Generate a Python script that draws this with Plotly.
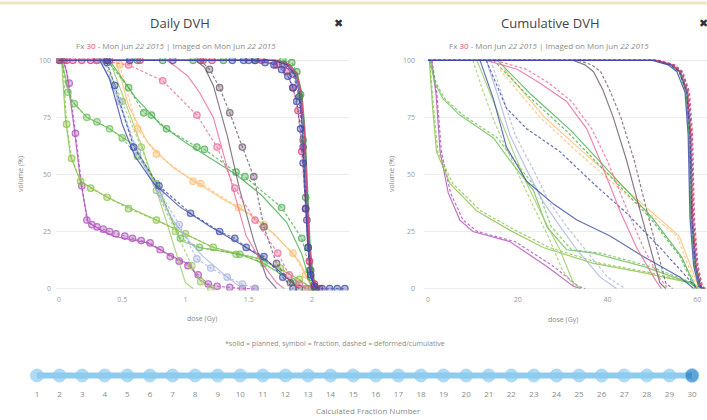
import plotly.graph_objects as go

# ---- daily DVH (Gy per fraction) ----
# high dose targets: planned
PTV_VOL = [100, 100, 98, 94, 86, 70, 45, 20, 5, 0]
ptv_blue_plan = [0, 1.70, 1.80, 1.86, 1.90, 1.925, 1.945, 1.965, 1.99, 2.03]
ptv_red_plan = [0, 1.72, 1.82, 1.88, 1.915, 1.94, 1.96, 1.98, 2.0, 2.04]
ptv_green_plan = [0, 1.74, 1.83, 1.885, 1.92, 1.945, 1.965, 1.985, 2.01, 2.05]
ptv_purple_plan = [0, 1.71, 1.81, 1.87, 1.91, 1.935, 1.955, 1.975, 2.0, 2.04]

# high dose targets: fraction
ptv_blue_frac_dose = [0.38, 0.56, 1.37, 1.46, 1.55, 1.63, 1.70, 1.76, 1.81, 1.85, 1.88, 1.91, 1.93, 1.95, 1.97, 1.99, 2.02, 2.08, 2.14, 2.20, 2.26]
ptv_blue_frac_vol = [100, 100, 100, 100, 100, 99, 98, 96, 93, 88, 82, 70, 55, 35, 18, 6, 1, 0, 0, 0, 0]
ptv_red_frac_dose = [0.01, 0.06, 0.11, 0.18, 0.25, 0.40, 0.64, 1.14, 1.21, 1.60, 1.72, 1.80, 1.85, 1.89, 1.92, 1.95, 1.98, 2.02, 2.06]
ptv_red_frac_vol = [100, 100, 100, 100, 100, 100, 100, 100, 100, 100, 98, 95, 88, 78, 60, 35, 12, 2, 0]
ptv_green_frac_dose = [0.62, 0.82, 1.06, 1.30, 1.55, 1.77, 1.84, 1.88, 1.91, 1.93, 1.95, 1.97, 1.99, 2.03]
ptv_green_frac_vol = [100, 100, 100, 100, 100, 100, 99, 95, 85, 65, 40, 18, 5, 0]
ptv_purple_frac_dose = [0.0, 0.9, 1.5, 1.78, 1.85, 1.90, 1.93, 1.96, 1.99, 2.03]
ptv_purple_frac_vol = [100, 100, 100, 98, 94, 84, 62, 30, 8, 0]

# organs at risk: planned (solid) / fraction (symbol + dashed)
pink_plan_dose = [0.85, 0.93, 1.02, 1.11, 1.22, 1.35, 1.48, 1.62, 1.72, 1.78]
pink_plan_vol = [100, 97, 93, 86, 75, 49, 23, 10, 2.5, 0]
pink_frac_dose = [0.30, 0.55, 0.82, 1.09, 1.25, 1.39, 1.55, 1.73, 1.82, 1.90, 1.97]
pink_frac_vol = [100, 98, 91, 76, 62, 44, 30, 15.5, 6, 2, 0]

gray_plan_dose = [1.08, 1.15, 1.22, 1.33, 1.43, 1.54, 1.64, 1.72]
gray_plan_vol = [100, 97, 89, 67, 43, 21, 5, 0]
gray_frac_dose = [1.12, 1.19, 1.27, 1.35, 1.45, 1.54, 1.62, 1.72, 1.83, 1.90]
gray_frac_vol = [100, 96, 88, 77, 62, 49, 27, 11, 2.5, 0]

glin_plan_dose = [0.40, 0.60, 0.80, 1.00, 1.20, 1.40, 1.60, 1.80, 1.92, 2.00]
glin_plan_vol = [100, 84, 72, 64, 57, 50, 41, 29, 15, 0]
glin_frac_dose = [0.38, 0.55, 0.67, 0.73, 0.85, 1.09, 1.15, 1.40, 1.47, 1.76, 1.92, 1.98, 2.02]
glin_frac_vol = [100, 88, 77, 76, 70, 62, 61, 51, 49, 35.5, 22, 8, 0]

orange_plan_dose = [0.45, 0.55, 0.70, 0.90, 1.10, 1.30, 1.50, 1.70, 1.90, 2.00]
orange_plan_vol = [100, 80, 64, 53, 46, 39, 33, 24, 12, 0]
orange_frac_dose = [0.48, 0.62, 0.77, 1.06, 1.12, 1.42, 1.62, 1.85, 1.95, 2.01]
orange_frac_vol = [98, 70, 59, 47, 46, 35.5, 28, 15.5, 6, 0]

navy_plan_dose = [0.32, 0.40, 0.50, 0.60, 0.75, 0.95, 1.20, 1.45, 1.65, 1.80, 1.90]
navy_plan_vol = [100, 92, 72, 58, 46, 36, 27, 19, 12, 5, 0]
navy_frac_dose = [0.30, 0.38, 0.44, 0.59, 0.79, 1.04, 1.27, 1.39, 1.48, 1.62, 1.77, 1.85]
navy_frac_vol = [100, 99, 89, 62, 45, 33, 25, 22, 18, 14, 5, 0]

lav_plan_dose = [0.33, 0.45, 0.60, 0.77, 0.90, 1.04, 1.14, 1.25, 1.33, 1.45]
lav_plan_vol = [100, 85, 62, 43, 30, 20, 14, 9, 5, 0]
lav_frac_dose = [0.35, 0.48, 0.62, 0.80, 0.95, 1.09, 1.20, 1.33, 1.45, 1.55]
lav_frac_vol = [100, 82, 60, 42, 28, 13, 9, 5, 2, 0]

lgreen_plan_dose = [0.40, 0.50, 0.67, 0.80, 0.90, 1.00, 1.06]
lgreen_plan_vol = [100, 85, 60, 38, 20, 2.5, 0]
lgreen_frac_dose = [0.36, 0.50, 0.65, 0.77, 0.92, 1.05, 1.12, 1.20]
lgreen_frac_vol = [100, 82, 62, 43, 25, 10, 3, 0]

gknee_plan_dose = [0.02, 0.06, 0.09, 0.22, 0.40, 0.59, 0.77, 0.96, 1.11, 1.43, 1.62, 1.85, 1.95]
gknee_plan_vol = [100, 90, 83, 75, 70, 63, 46, 21, 18, 15, 11, 3, 0]
gknee_frac_dose = [0.02, 0.07, 0.12, 0.22, 0.30, 0.40, 0.50, 0.62, 0.77, 0.96, 1.11, 1.43, 1.62, 1.85, 1.95]
gknee_frac_vol = [100, 86, 81, 75, 73, 70, 66, 58, 46, 22, 18, 15, 11, 3, 0]

glow_plan_dose = [0.02, 0.05, 0.09, 0.17, 0.38, 0.77, 1.22, 1.59, 1.90, 2.00]
glow_plan_vol = [100, 75, 58, 47, 40, 30, 18, 13, 4, 0]
glow_frac_dose = [0.03, 0.06, 0.10, 0.17, 0.25, 0.38, 0.55, 0.77, 1.00, 1.22, 1.40, 1.59, 1.75, 1.90, 2.00]
glow_frac_vol = [100, 72, 57, 47, 44, 40, 35, 30, 24, 18, 15, 13, 9, 4, 0]

orchid_plan_dose = [0.03, 0.06, 0.12, 0.17, 0.23, 0.32, 0.43, 0.70, 0.90, 1.03, 1.11, 1.22]
orchid_plan_vol = [100, 95, 70, 47, 29, 26, 23, 20, 14, 10.5, 4, 0]
orchid_frac_dose = [0.04, 0.08, 0.13, 0.18, 0.22, 0.26, 0.30, 0.35, 0.40, 0.45, 0.52, 0.58, 0.65, 0.72,
                    0.80, 0.88, 0.95, 1.02, 1.10, 1.18, 1.25, 1.35, 1.45, 1.55]
orchid_frac_vol = [100, 90, 68, 45, 30, 28, 27, 26, 25, 24, 23, 22, 21, 20, 17, 14, 12, 10, 6, 2, 1, 0.5, 0, 0]

# ---- cumulative DVH (Gy) ----
CUM_PTV_VOL = [100, 100, 98, 95, 86, 67, 31, 10, 1, 0]
cum_blue_plan = [0, 50, 53.5, 55.5, 57.3, 58.0, 58.4, 59.2, 60.3, 61.0]
cum_blue_def = [0, 50.5, 54, 56, 57.7, 58.4, 58.8, 59.6, 60.7, 61.4]
cum_red_plan = [0, 51, 54.5, 56.3, 57.9, 58.6, 59.0, 59.8, 60.8, 61.5]
cum_red_def = [0, 51.5, 55, 56.8, 58.3, 59.0, 59.4, 60.2, 61.2, 61.9]
cum_green_plan = [0, 50.5, 54, 56, 57.5, 58.2, 58.6, 59.4, 60.5, 61.2]
cum_green_def = [0, 51, 54.5, 56.4, 57.9, 58.6, 59.0, 59.8, 60.9, 61.6]
cum_purple_plan = [0, 50.8, 54.2, 56.2, 57.7, 58.4, 58.8, 59.6, 60.6, 61.3]
cum_purple_def = [0, 51.2, 54.8, 56.6, 58.1, 58.8, 59.2, 60.0, 61.0, 61.7]

cum_gray_vol = [100, 98, 95, 87, 75, 56, 34, 18, 2.5, 0]
cum_gray_plan = [32.4, 35, 36.9, 39, 41.3, 44.3, 47.3, 49.5, 51.7, 53]
cum_gray_def = [33.5, 36.5, 38.5, 40.5, 43, 46, 48.8, 51, 53, 54.5]

cum_pink_vol = [100, 96, 90, 82, 70, 56, 34, 18, 5, 0]
cum_pink_plan = [13, 20, 25, 30.9, 35.4, 38.4, 42.8, 46.5, 50.3, 52]
cum_pink_def = [15, 22, 27, 32, 36.5, 40, 44.5, 48, 51.5, 53.5]

cum_navy_plan_dose = [11.6, 14.6, 17.5, 22, 28, 33.2, 40.6, 48, 56.2, 59.2]
cum_navy_plan_vol = [100, 83, 62, 47, 37, 30, 23, 14, 5, 0]
cum_navy_def_dose = [13, 17.5, 22, 29.4, 36.9, 44.3, 51.7, 57.7, 60]
cum_navy_def_vol = [100, 79, 70, 60, 46, 33, 18, 5, 0]

cum_glin_vol = [100, 85, 69, 49, 31, 14, 0]
cum_glin_plan = [15.5, 23, 32, 41.5, 50, 56.5, 59.8]
cum_glin_def = [14.6, 22, 30.9, 40.6, 49.5, 56.2, 59.5]

cum_orange_vol = [96, 75, 60, 41, 23, 5, 0]
cum_orange_plan = [17, 26, 34.5, 45.5, 56, 59.5, 60.5]
cum_orange_def = [16, 25, 33.2, 44.3, 55.5, 59, 60]

cum_lgreen_plan_dose = [10.9, 13, 16, 19, 22, 26.5, 29.4, 32.4, 34]
cum_lgreen_plan_vol = [100, 90, 75, 60, 46, 28, 17, 2.5, 0]
cum_lgreen_def_dose = [10, 12, 15, 19, 23, 27, 30, 33]
cum_lgreen_def_vol = [100, 88, 72, 55, 38, 22, 8, 0]

cum_lav_vol = [100, 85, 67, 52, 38, 27, 17, 5, 0]
cum_lav_plan = [13, 15.5, 18.3, 22, 25.7, 29.5, 33.2, 38.4, 42]
cum_lav_def = [14, 16.5, 19.5, 23.5, 27, 31, 35, 40, 44]

cum_gknee_vol = [100, 90, 83, 76, 66, 56, 43, 27, 17, 15.5, 9.7, 2.5, 0]
cum_gknee_plan = [0.45, 1.5, 3.4, 7.1, 14.6, 18.3, 23.5, 26.5, 30.9, 36.9, 48, 58.4, 60]
cum_gknee_def = [0.6, 1.8, 3.8, 7.8, 15.5, 19.3, 24.5, 27.5, 32, 38.5, 49.5, 59, 60.5]

cum_glow_vol = [100, 80, 60, 46, 34, 25.5, 18, 11, 7, 2.5, 0]
cum_glow_plan = [0.3, 1.0, 1.9, 4.9, 10.9, 18.3, 25.7, 36.9, 48, 58.4, 60]
cum_glow_def = [0.4, 1.2, 2.2, 5.5, 11.8, 19.5, 27, 38.5, 49.5, 59, 60.5]

cum_orchid_vol = [100, 85, 60, 42, 30, 25, 20.5, 9.7, 1, 0]
cum_orchid_plan = [0.8, 1.8, 2.7, 4.5, 7.1, 10, 18.3, 26.5, 32.4, 34]
cum_orchid_def = [0.9, 2.0, 3.0, 5.0, 7.8, 11, 19.5, 28, 33.5, 35]

FRACTIONS = list(range(1, 31))
CURRENT_FRACTION = 30

BLUE, RED, GREEN, PURPLE = '#3949ab', '#d93a72', '#43a047', '#6a3d9a'
PINK, GRAY, GLIN, ORANGE = '#ec6a9a', '#6e5d6e', '#4caf50', '#ffbf70'
NAVY, LAV, LGREEN, GKNEE, GLOW, ORCHID = '#3f4fa8', '#a9b4e0', '#9ccc65', '#6fbf5a', '#8bc34a', '#b052b8'


def rgba(hex_color, a):
    h = hex_color.lstrip('#')
    return 'rgba(%d,%d,%d,%s)' % (int(h[0:2], 16), int(h[2:4], 16), int(h[4:6], 16), a)


fig = go.Figure()


def solid(x, y, color, xa='x', ya='y', width=1.2):
    fig.add_trace(go.Scatter(x=x, y=y, mode='lines', xaxis=xa, yaxis=ya,
                             line=dict(color=color, width=width), opacity=0.8,
                             hoverinfo='skip', showlegend=False))


def dashed(x, y, color, xa='x', ya='y', markers=False):
    fig.add_trace(go.Scatter(x=x, y=y, mode='lines+markers' if markers else 'lines',
                             xaxis=xa, yaxis=ya,
                             line=dict(color=color, width=1.2, dash='3px,2px'),
                             marker=dict(size=6.5, color=rgba(color, 0.45),
                                         line=dict(color=color, width=1.2)),
                             opacity=0.8, hoverinfo='skip', showlegend=False))


# Daily DVH: planned solid + fraction symbols on dashed line
daily = [
    (orchid_plan_dose, orchid_plan_vol, orchid_frac_dose, orchid_frac_vol, ORCHID),
    (glow_plan_dose, glow_plan_vol, glow_frac_dose, glow_frac_vol, GLOW),
    (gknee_plan_dose, gknee_plan_vol, gknee_frac_dose, gknee_frac_vol, GKNEE),
    (lgreen_plan_dose, lgreen_plan_vol, lgreen_frac_dose, lgreen_frac_vol, LGREEN),
    (lav_plan_dose, lav_plan_vol, lav_frac_dose, lav_frac_vol, LAV),
    (orange_plan_dose, orange_plan_vol, orange_frac_dose, orange_frac_vol, ORANGE),
    (glin_plan_dose, glin_plan_vol, glin_frac_dose, glin_frac_vol, GLIN),
    (navy_plan_dose, navy_plan_vol, navy_frac_dose, navy_frac_vol, NAVY),
    (gray_plan_dose, gray_plan_vol, gray_frac_dose, gray_frac_vol, GRAY),
    (pink_plan_dose, pink_plan_vol, pink_frac_dose, pink_frac_vol, PINK),
    (ptv_purple_plan, PTV_VOL, ptv_purple_frac_dose, ptv_purple_frac_vol, PURPLE),
    (ptv_green_plan, PTV_VOL, ptv_green_frac_dose, ptv_green_frac_vol, GREEN),
    (ptv_red_plan, PTV_VOL, ptv_red_frac_dose, ptv_red_frac_vol, RED),
    (ptv_blue_plan, PTV_VOL, ptv_blue_frac_dose, ptv_blue_frac_vol, BLUE),
]
for pd_, pv, fd, fv, c in daily:
    solid(pd_, pv, c)
    dashed(fd, fv, c, markers=True)

# Cumulative DVH: planned solid + deformed dashed
cumulative = [
    (cum_orchid_plan, cum_orchid_vol, cum_orchid_def, cum_orchid_vol, ORCHID),
    (cum_glow_plan, cum_glow_vol, cum_glow_def, cum_glow_vol, GLOW),
    (cum_gknee_plan, cum_gknee_vol, cum_gknee_def, cum_gknee_vol, GKNEE),
    (cum_lgreen_plan_dose, cum_lgreen_plan_vol, cum_lgreen_def_dose, cum_lgreen_def_vol, LGREEN),
    (cum_lav_plan, cum_lav_vol, cum_lav_def, cum_lav_vol, LAV),
    (cum_orange_plan, cum_orange_vol, cum_orange_def, cum_orange_vol, ORANGE),
    (cum_glin_plan, cum_glin_vol, cum_glin_def, cum_glin_vol, GLIN),
    (cum_navy_plan_dose, cum_navy_plan_vol, cum_navy_def_dose, cum_navy_def_vol, NAVY),
    (cum_gray_plan, cum_gray_vol, cum_gray_def, cum_gray_vol, GRAY),
    (cum_pink_plan, cum_pink_vol, cum_pink_def, cum_pink_vol, PINK),
    (cum_purple_plan, CUM_PTV_VOL, cum_purple_def, CUM_PTV_VOL, PURPLE),
    (cum_green_plan, CUM_PTV_VOL, cum_green_def, CUM_PTV_VOL, GREEN),
    (cum_red_plan, CUM_PTV_VOL, cum_red_def, CUM_PTV_VOL, RED),
    (cum_blue_plan, CUM_PTV_VOL, cum_blue_def, CUM_PTV_VOL, BLUE),
]
for pd_, pv, dd, dv, c in cumulative:
    solid(pd_, pv, c, 'x2', 'y2')
    dashed(dd, dv, c, 'x2', 'y2')

# fraction slider
fig.add_trace(go.Scatter(
    x=FRACTIONS, y=[0] * len(FRACTIONS), mode='lines+markers', xaxis='x3', yaxis='y3',
    line=dict(color='#8ecbee', width=6),
    marker=dict(size=[13] * (len(FRACTIONS) - 1) + [14],
                color=['#8ecbee'] * (len(FRACTIONS) - 1) + ['#1f7dc4']),
    hoverinfo='skip', showlegend=False))

W, H = 707, 420


def px(v):
    return v / W


def py(v):
    return 1 - v / H


tick_font = dict(size=7, color='#9a9a9a')
yax = dict(range=[-0.87, 100.87], tickvals=[0, 25, 50, 75, 100], showgrid=True,
           gridcolor='#ececec', gridwidth=1, zeroline=False, showline=False,
           tickfont=tick_font, domain=[py(291), py(56)])

fig.update_layout(
    width=W, height=H, margin=dict(l=0, r=0, t=0, b=0),
    paper_bgcolor='white', plot_bgcolor='white',
    font=dict(family='Open Sans, sans-serif', color='#444'),
    showlegend=False,
    xaxis=dict(domain=[px(56), px(349)], range=[-0.024, 2.293], anchor='y',
               tickvals=[0, 0.5, 1, 1.5, 2], ticktext=['0', '0.5', '1', '1.5', '2'],
               showgrid=False, zeroline=False, showline=False, tickfont=tick_font,
               ticklabelstandoff=3),
    yaxis=dict(yax, anchor='x', ticklabelstandoff=4),
    xaxis2=dict(domain=[px(424), 1.0], range=[-0.89, 62.2], anchor='y2',
                tickvals=[0, 20, 40, 60], showgrid=False, zeroline=False,
                showline=False, tickfont=tick_font, ticklabelstandoff=3),
    yaxis2=dict(yax, anchor='x2', ticklabelstandoff=8),
    xaxis3=dict(domain=[0, 1], range=[-0.638, 30.664], anchor='y3', tickvals=FRACTIONS,
                showgrid=False, zeroline=False, showline=False,
                tickfont=dict(size=8, color='#8a8a8a')),
    yaxis3=dict(domain=[py(390), py(364)], range=[-1, 1], visible=False),
)

subtitle = ("Fx <span style='color:#e0506a'>30</span> - Mon Jun <i>22 2015</i> | "
            "Imaged on Mon Jun <i>22 2015</i>")
annots = [
    dict(x=px(180), y=py(20), text='Daily DVH', font=dict(size=13, color='#444')),
    dict(x=px(550), y=py(20), text='Cumulative DVH', font=dict(size=13, color='#444')),
    dict(x=px(176), y=py(43), text=subtitle, font=dict(size=8, color='#8a8a8a')),
    dict(x=px(549), y=py(43), text=subtitle, font=dict(size=8, color='#8a8a8a')),
    dict(x=px(338), y=py(20), text='✖', font=dict(size=11, color='#333')),
    dict(x=px(703), y=py(20), text='✖', font=dict(size=11, color='#333')),
    dict(x=px(21), y=py(173), text='volume (%)', textangle=-90, font=dict(size=7, color='#8a8a8a')),
    dict(x=px(392), y=py(173), text='volume (%)', textangle=-90, font=dict(size=7, color='#8a8a8a')),
    dict(x=px(202), y=py(319), text='dose (Gy)', font=dict(size=7, color='#8a8a8a')),
    dict(x=px(563), y=py(320), text='dose (Gy)', font=dict(size=7, color='#8a8a8a')),
    dict(x=px(335), y=py(345), font=dict(size=7, color='#8a8a8a'),
         text='*solid = planned, symbol = fraction, dashed = deformed/cumulative'),
    dict(x=px(368), y=py(412), text='Calculated Fraction Number', font=dict(size=8, color='#8a8a8a')),
]
for a in annots:
    fig.add_annotation(xref='paper', yref='paper', showarrow=False,
                       xanchor='center', yanchor='middle', **a)

fig.add_shape(type='line', xref='paper', yref='paper', x0=0, x1=1, y0=1, y1=1,
              line=dict(color='#f2e3c6', width=3))

# body margin off so the 707x420 figure sits at the page corner; no modebar
fig.write_html('out.html', config={'displayModeBar': False},
               post_script="document.body.style.margin='0px';")
